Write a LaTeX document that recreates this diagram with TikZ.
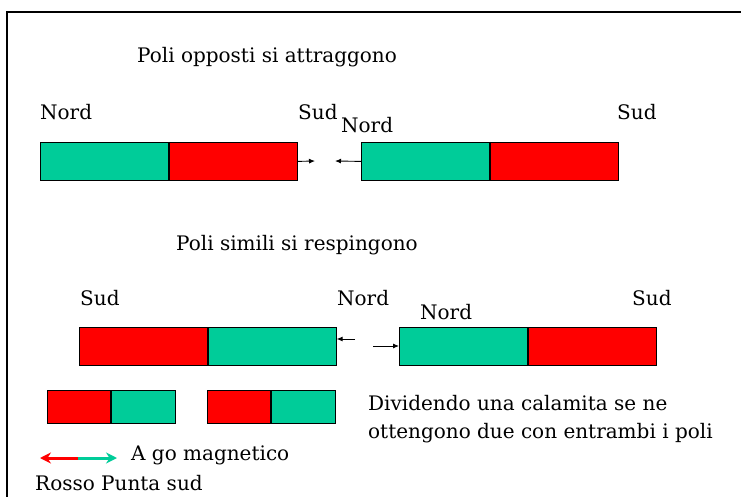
\documentclass[tikz,border=0pt]{standalone}
\usepackage{fontspec}
\setmainfont{DejaVu Serif}
\usetikzlibrary{arrows.meta}
\definecolor{verde}{RGB}{0,204,153}
\begin{document}
\begin{tikzpicture}[x=1pt,y=-1pt]
    \tikzset{polo/.style={rectangle,draw=black,line width=0.8pt,inner sep=0pt,
                          minimum width=128pt,minimum height=38pt,anchor=north west},
             polopiccolo/.style={polo,minimum width=63.5pt,minimum height=33pt},
             nord/.style={fill=verde},
             sud/.style={fill=red},
             scritta/.style={anchor=base west,inner sep=0pt,font=\fontsize{20}{23}\selectfont},
             freccina/.style={-{Latex[length=6pt,width=5pt]},line width=0.9pt}}
    \useasboundingbox (0,0) rectangle (741,497);
    \draw[line width=2pt] (7,497) -- (7,12) -- (741,12);

    % poli opposti
    \node[scritta] (titolo1) at (137,63) {Poli opposti si attraggono};
    \node[polo,nord] (a1) at (40,142) {};
    \node[polo,sud] (a2) at (a1.north east) {};
    \node[polo,nord] (b1) at (361,142) {};
    \node[polo,sud] (b2) at (b1.north east) {};
    \draw[line width=2pt] (a1.north east) -- (a1.south east);
    \draw[line width=2pt] (b1.north east) -- (b1.south east);
    \node[scritta] (la1) at (40,120) {Nord};
    \node[scritta] (la2) at (298,120) {Sud};
    \node[scritta] (lb1) at (341,133) {Nord};
    \node[scritta] (lb2) at (617,120) {Sud};
    \coordinate (pa) at (315,161);
    \coordinate (pb) at (335,161);
    \draw[freccina] (a2.east) -- (pa);
    \draw[freccina] (b1.west) -- (pb);

    % poli simili
    \node[scritta] (titolo2) at (176,250) {Poli simili si respingono};
    \node[polo,sud] (c1) at (79,327) {};
    \node[polo,nord] (c2) at (c1.north east) {};
    \node[polo,nord] (d1) at (399,327) {};
    \node[polo,sud] (d2) at (d1.north east) {};
    \draw[line width=2pt] (c1.north east) -- (c1.south east);
    \draw[line width=2pt] (d1.north east) -- (d1.south east);
    \node[scritta] (lc1) at (80,305) {Sud};
    \node[scritta] (lc2) at (337,305) {Nord};
    \node[scritta] (ld1) at (420,319) {Nord};
    \node[scritta] (ld2) at (632,305) {Sud};
    \coordinate (pc) at (355,339);
    \coordinate (pd) at (373,346);
    \draw[freccina] (pc) -- (c2.east |- pc);
    \draw[freccina] (pd) -- (d1.west |- pd);

    % calamita divisa
    \node[polopiccolo,sud] (e1) at (47,390) {};
    \node[polopiccolo,nord] (e2) at (e1.north east) {};
    \node[polopiccolo,sud] (f1) at (207,390) {};
    \node[polopiccolo,nord] (f2) at (f1.north east) {};
    \draw[line width=2pt] (e1.north east) -- (e1.south east);
    \draw[line width=2pt] (f1.north east) -- (f1.south east);
    \node[scritta] (testo1) at (368,410) {Dividendo una calamita se ne};
    \node[scritta] (testo2) at (368,438) {ottengono due con entrambi i poli};

    % ago magnetico
    \coordinate (ago) at (78,458);
    \coordinate (agor) at (40,458);
    \coordinate (agov) at (117,458);
    \draw[red,line width=3pt,-{Stealth[length=11pt,width=11pt]}] (ago) -- (agor);
    \draw[verde,line width=3pt,-{Stealth[length=11pt,width=11pt]}] (ago) -- (agov);
    \node[scritta] (lago) at (131,460) {A go magnetico};
    \node[scritta] (lrosso) at (35,490) {Rosso Punta sud};
\end{tikzpicture}
\end{document}
